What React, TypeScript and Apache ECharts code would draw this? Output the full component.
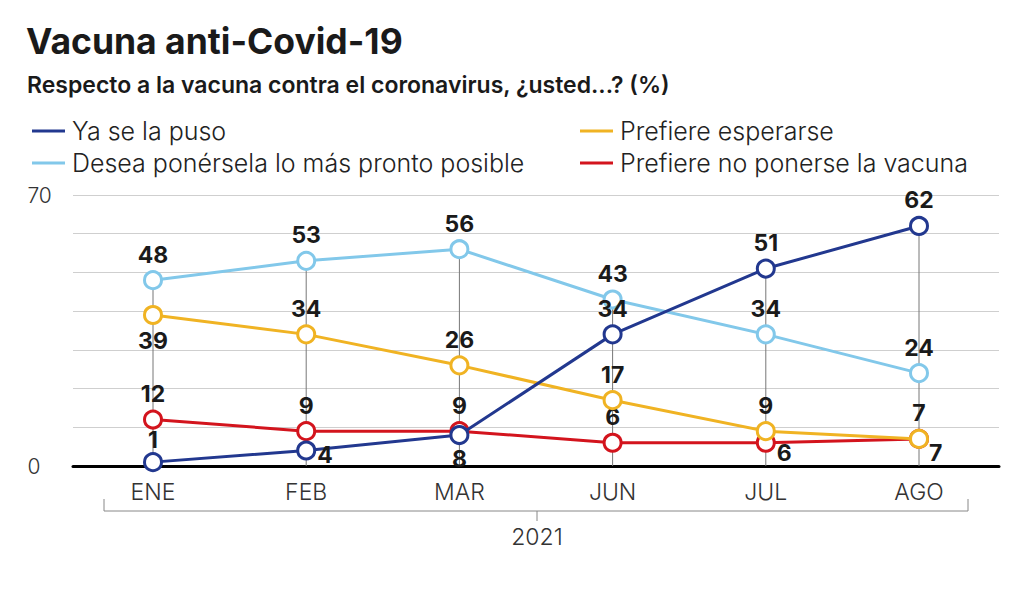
import React, { useEffect, useRef } from "react";
import * as echarts from "echarts";

const categories = ["ENE", "FEB", "MAR", "JUN", "JUL", "AGO"];
const yaSeLaPuso = [1, 4, 8, 34, 51, 62];
const deseaPonersela = [48, 53, 56, 43, 34, 24];
const prefiereEsperarse = [39, 34, 26, 17, 9, 7];
const prefiereNo = [12, 9, 9, 6, 6, 7];
const yTickLabels = ["0", "70"];
const yearLabel = "2021";

const FONT = "Inter, 'Noto Sans', sans-serif";

export default function App() {
  const ref = useRef<HTMLDivElement>(null);
  useEffect(() => {
    if (!ref.current) return;
    const chart = echarts.init(ref.current, undefined, { renderer: "svg" });

    const maxes = categories.map((_, i) =>
      Math.max(yaSeLaPuso[i], deseaPonersela[i], prefiereEsperarse[i], prefiereNo[i])
    );

    const labelBase = {
      show: true,
      position: "top",
      distance: 4,
      fontFamily: FONT,
      fontWeight: "bold",
      fontSize: 23,
      color: "#1a1a1a",
    };

    // per-point label placement overrides
    const overrides: Record<string, Record<number, any>> = {
      ya: {
        0: { distance: 1 },
        1: { position: "right", offset: [-3, 4] },
        2: { position: "bottom", distance: 2 },
      },
      esp: { 0: { position: "bottom" } },
      no: {
        4: { position: "right", offset: [-3, 10] },
        5: { position: "right", offset: [-4, 14] },
      },
    };

    const mk = (key: string, vals: number[]) =>
      vals.map((v, i) =>
        overrides[key] && overrides[key][i]
          ? { value: v, label: { ...overrides[key][i] } }
          : v
      );

    const lineSeries = (name: string, key: string, vals: number[], color: string, z: number) => ({
      type: "line",
      name,
      data: mk(key, vals),
      xAxisIndex: 0,
      yAxisIndex: 0,
      z,
      symbol: "circle",
      symbolSize: 17,
      showAllSymbol: true,
      lineStyle: { color, width: 3 },
      itemStyle: { color: "#ffffff", borderColor: color, borderWidth: 3 },
      label: { ...labelBase },
      emphasis: { disabled: true },
    });

    const legendItem = (name: string, left: number, top: number, color: string) => ({
      data: [{ name, icon: "rect", itemStyle: { color, borderWidth: 0 } }],
      left,
      top,
      itemWidth: 33,
      itemHeight: 3,
      selectedMode: false,
      textStyle: {
        fontFamily: FONT,
        fontSize: 25,
        fontWeight: 300,
        lineHeight: 30,
        color: "#222",
        padding: [0, 0, 0, 2],
      },
    });

    const option: any = {
      animation: false,
      backgroundColor: "#ffffff",
      textStyle: { fontFamily: FONT },
      legend: [
        legendItem("Ya se la puso", 27, 111, "#22388f"),
        legendItem("Desea ponérsela lo más pronto posible", 27, 143, "#82c8ea"),
        legendItem("Prefiere esperarse", 575, 111, "#f0b323"),
        legendItem("Prefiere no ponerse la vacuna", 575, 143, "#d3141d"),
      ],
      grid: [
        { left: 76.4, right: 28.4, top: 195, bottom: 126 },
        { left: 73, right: 25, top: 195, bottom: 126 },
      ],
      xAxis: [
        {
          type: "category",
          gridIndex: 0,
          data: categories,
          boundaryGap: true,
          axisLine: { show: false },
          axisTick: { show: false },
          axisLabel: {
            fontFamily: FONT,
            fontSize: 23,
            fontWeight: 300,
            color: "#333",
            margin: 14,
          },
          splitLine: { show: false },
        },
        {
          type: "value",
          gridIndex: 1,
          min: 0,
          max: 1,
          axisLine: { show: true, onZero: false, lineStyle: { color: "#000", width: 3 } },
          axisTick: { show: false },
          axisLabel: { show: false },
          splitLine: { show: false },
        },
      ],
      yAxis: [
        {
          type: "value",
          gridIndex: 0,
          min: 0,
          max: 70,
          interval: 10,
          axisLine: { show: false },
          axisTick: { show: false },
          splitLine: { show: false },
          axisLabel: {
            align: "left",
            margin: 49,
            fontFamily: FONT,
            fontSize: 21,
            fontWeight: 300,
            color: "#333",
            formatter: (v: number) => (yTickLabels.includes(String(v)) ? String(v) : ""),
          },
        },
        {
          type: "value",
          gridIndex: 1,
          min: 0,
          max: 70,
          interval: 10,
          axisLine: { show: false },
          axisTick: { show: false },
          axisLabel: { show: false },
          splitLine: { show: true, lineStyle: { color: "#cfcfcf", width: 1 } },
        },
      ],
      series: [
        {
          type: "custom",
          name: "drop",
          xAxisIndex: 0,
          yAxisIndex: 0,
          z: 1,
          silent: true,
          data: maxes.map((m, i) => [i, m]),
          renderItem: (params: any, api: any) => {
            const top = api.coord([api.value(0), api.value(1)]);
            const bot = api.coord([api.value(0), 0]);
            return {
              type: "line",
              shape: { x1: top[0], y1: top[1], x2: bot[0], y2: bot[1] },
              style: { stroke: "#777", lineWidth: 1 },
            };
          },
        },
        lineSeries("Prefiere no ponerse la vacuna", "no", prefiereNo, "#d3141d", 3),
        lineSeries("Prefiere esperarse", "esp", prefiereEsperarse, "#f0b323", 4),
        lineSeries("Desea ponérsela lo más pronto posible", "des", deseaPonersela, "#82c8ea", 5),
        lineSeries("Ya se la puso", "ya", yaSeLaPuso, "#22388f", 6),
      ],
      graphic: [
        {
          type: "text",
          left: 26,
          top: 23,
          style: {
            text: "Vacuna anti-Covid-19",
            fontFamily: FONT,
            fontWeight: "bold",
            fontSize: 35.5,
            fill: "#1a1a1a",
          },
        },
        {
          type: "text",
          left: 27,
          top: 73,
          style: {
            text: "Respecto a la vacuna contra el coronavirus, ¿usted...? (%)",
            fontFamily: FONT,
            fontWeight: 600,
            fontSize: 23,
            fill: "#1a1a1a",
          },
        },
        {
          type: "polyline",
          shape: { points: [[104, 499], [104, 511], [968, 511], [968, 499]] },
          style: { stroke: "#888", lineWidth: 1, fill: "none" },
        },
        {
          type: "line",
          shape: { x1: 537, y1: 511, x2: 537, y2: 521 },
          style: { stroke: "#888", lineWidth: 1 },
        },
        {
          type: "text",
          x: 537,
          y: 537,
          style: {
            text: yearLabel,
            fontFamily: FONT,
            fontSize: 23,
            fontWeight: 300,
            fill: "#333",
            align: "center",
            verticalAlign: "middle",
          },
        },
      ],
    };

    chart.setOption(option);
    return () => chart.dispose();
  }, []);

  return (
    <div
      ref={ref}
      style={{ position: "fixed", left: 0, top: 0, width: 1024, height: 592 }}
    />
  );
}
